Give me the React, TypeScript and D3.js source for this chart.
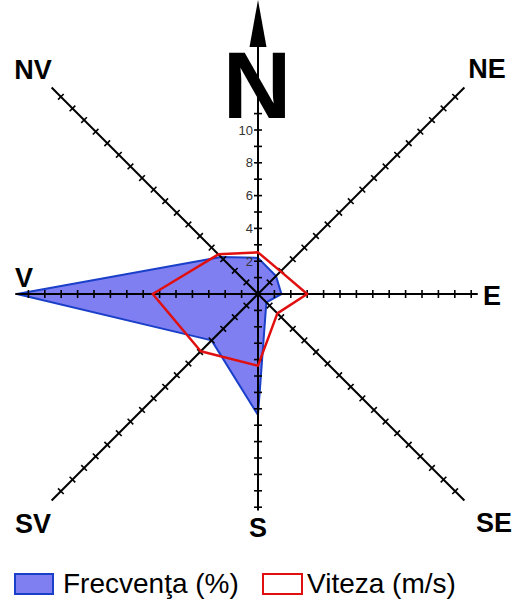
import React from 'react';
import * as d3 from 'd3';

// wind rose: directions clockwise from north
const directions = ['N', 'NE', 'E', 'SE', 'S', 'SV', 'V', 'NV'];
const frecventa = [2.2, 1.55, 1.43, 0.72, 7.38, 4.0, 14.7, 3.19];
const viteza = [2.54, 1.95, 3.0, 1.67, 4.37, 4.94, 6.42, 3.42];
const axisTicks = [11, 17, 13, 17, 13, 17, 14, 17];
const axisLength = [15.8, 17.8, 13.4, 17.8, 13.2, 17.8, 14.8, 17.8];
const tickLabels = [2, 4, 6, 8, 10];
const legendItems = ['Frecvenţa (%)', 'Viteza (m/s)'];

const W = 528;
const H = 602;
const CX = 258;
const CY = 294;
const FONT = '"Liberation Sans", Arial, sans-serif';

// label anchor points (layout)
const labelPos: Record<string, [number, number]> = {
  NE: [487, 78],
  E: [492, 305],
  SE: [494, 532],
  S: [258, 537],
  SV: [33, 533],
  V: [24, 287],
  NV: [33, 79],
};

const r = d3.scaleLinear().domain([0, 1]).range([0, 16.4]);
const angle = d3
  .scaleLinear()
  .domain([0, directions.length])
  .range([0, 2 * Math.PI]);

const pt = (i: number, v: number): [number, number] => {
  const a = angle(i);
  return [CX + r(v) * Math.sin(a), CY - r(v) * Math.cos(a)];
};

const line = d3.line<[number, number]>().curve(d3.curveLinearClosed);

export default function App() {
  const bluePts = frecventa.map((v, i) => pt(i, v));
  const redPts = viteza.map((v, i) => pt(i, v));

  return (
    <svg
      width={W}
      height={H}
      style={{ position: 'absolute', left: 0, top: 0, background: '#fff' }}
      fontFamily={FONT}
    >
      <path
        d={line(bluePts) || ''}
        fill="#7f7ff2"
        stroke="#1a3fc8"
        strokeWidth={2}
        strokeLinejoin="round"
      />
      <g stroke="#000">
        {directions.map((d, i) => {
          const a = angle(i);
          const [x2, y2] = pt(i, axisLength[i]);
          const ux = Math.sin(a);
          const uy = -Math.cos(a);
          return (
            <g key={d}>
              <line x1={CX} y1={CY} x2={x2} y2={y2} strokeWidth={2} />
              {d3.range(1, axisTicks[i] + 1).map((t) => {
                const [tx, ty] = pt(i, t);
                return (
                  <line
                    key={t}
                    x1={tx - uy * 4}
                    y1={ty + ux * 4}
                    x2={tx + uy * 4}
                    y2={ty - ux * 4}
                    strokeWidth={1.6}
                  />
                );
              })}
            </g>
          );
        })}
      </g>
      <g fontSize={13} fill="#333" textAnchor="end">
        {tickLabels.map((t) => (
          <text key={t} x={CX - 5} y={pt(0, t)[1]} dy="0.36em">
            {t}
          </text>
        ))}
      </g>
      <path
        d={line(redPts) || ''}
        fill="none"
        stroke="#e01010"
        strokeWidth={2.5}
        strokeLinejoin="round"
      />
      {/* north arrow */}
      <path d={`M${CX},0 L${CX + 8.5},47 L${CX - 8.5},47 Z`} fill="#000" />
      <text
        x={257}
        y={118}
        fontSize={95}
        fontWeight="bold"
        textAnchor="middle"
        fill="#000"
      >
        N
      </text>
      <g fontSize={27} fontWeight="bold" textAnchor="middle" fill="#000">
        {directions
          .filter((d) => labelPos[d])
          .map((d) => (
            <text key={d} x={labelPos[d][0]} y={labelPos[d][1]}>
              {d}
            </text>
          ))}
      </g>
      <g fontSize={28} fill="#000">
        <rect x={15} y={574} width={38} height={20} fill="#7f7ff2" stroke="#1a3fc8" strokeWidth={2} />
        <text x={63} y={593}>
          {legendItems[0]}
        </text>
        <rect x={263} y={574} width={39} height={20} fill="#fff" stroke="#e01010" strokeWidth={2} />
        <text x={307} y={593}>
          {legendItems[1]}
        </text>
      </g>
    </svg>
  );
}
